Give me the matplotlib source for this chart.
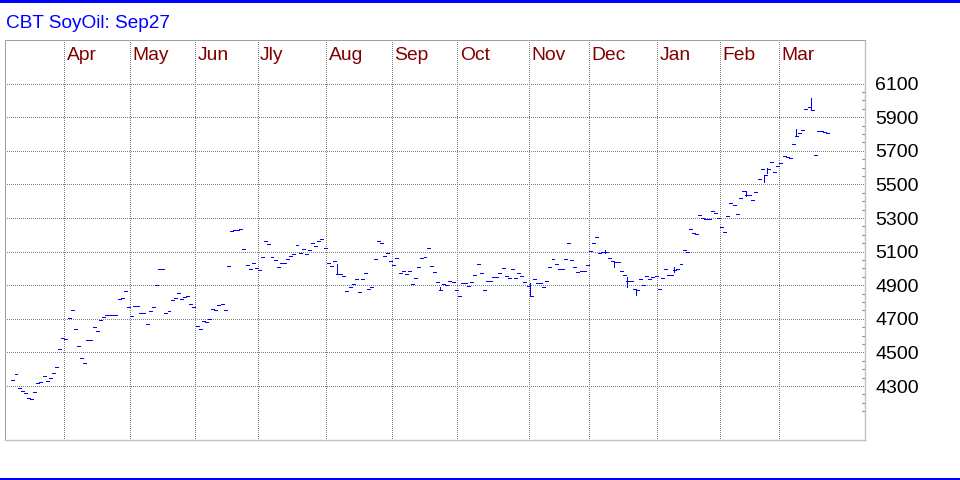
import matplotlib
matplotlib.use("Agg")
import matplotlib.pyplot as plt
import matplotlib.transforms as mtransforms
from matplotlib.collections import LineCollection
from matplotlib.patches import Rectangle
from matplotlib.ticker import FixedLocator
import numpy as np
import pandas as pd

# ---------------- data ----------------
title = "CBT SoyOil: Sep27"
first_day = "2025-03-07"
holidays = ["2025-04-18", "2025-05-26", "2025-06-19", "2025-07-04", "2025-09-01",
            "2025-11-27", "2025-12-25", "2026-01-01", "2026-01-19", "2026-02-16"]

settle_mar25 = [4334, 4370, 4286, 4268, 4256, 4227, 4221, 4262, 4316, 4322, 4358, 4328,
                4346, 4376, 4411, 4518, 4584]
settle_apr25 = [4578, 4703, 4751, 4637, 4536, 4465, 4435, 4572, 4572, 4649, 4626, 4691,
                4709, 4721, 4721, 4721, 4721, 4816, 4822, 4864, 4768]
settle_may25 = [4715, 4774, 4774, 4733, 4733, 4667, 4745, 4768, 4899, 4995, 4995, 4733,
                4745, 4810, 4822, 4852, 4816, 4828, 4834, 4786, 4768]
settle_jun25 = [4655, 4637, 4685, 4679, 4697, 4757, 4751, 4780, 4786, 4751, 5012, 5221,
                5227, 5227, 5233, 5114, 5018, 4995, 5030, 5001]
settle_jul25 = [4989, 5066, 5161, 5143, 5066, 5048, 5007, 5030, 5030, 5054, 5072, 5084,
                5137, 5090, 5114, 5084, 5108, 5149, 5131, 5161, 5173, 5120]
settle_aug25 = [5030, 5012, 5042, 4970, 4970, 4953, 4864, 4887, 4905, 4935, 4858, 4935,
                4971, 4876, 4887, 5054, 5161, 5149, 5072, 5090, 5042]
settle_sep25 = [5018, 5060, 4971, 4983, 4965, 4983, 4905, 4941, 5007, 5060, 5066, 5120,
                5012, 4977, 4917, 4869, 4905, 4899, 4923, 4917, 4869]
settle_oct25 = [4834, 4911, 4911, 4893, 4917, 4959, 5024, 4971, 4869, 4923, 4923, 4947,
                4947, 4971, 5001, 4953, 4941, 4995, 4941, 4971, 4953, 4917, 4893]
settle_nov25 = [4834, 4935, 4911, 4911, 4887, 4923, 5007, 5054, 5024, 4995, 4995, 5054,
                5149, 5048, 5007, 4977, 4983, 4983, 5018]
settle_dec25 = [5102, 5149, 5185, 5090, 5096, 5096, 5060, 5042, 5036, 5036, 4983, 4959,
                4923, 4923, 4876, 4869, 4935, 4899, 4953, 4935, 4947, 4953]
settle_jan26 = [4876, 4941, 4995, 4959, 4959, 4990, 4995, 5024, 5107, 5101, 5233, 5209,
                5203, 5316, 5298, 5292, 5292, 5340, 5328, 5298]
settle_feb26 = [5245, 5215, 5310, 5387, 5375, 5322, 5417, 5459, 5435, 5435, 5405, 5453,
                5530, 5590, 5554, 5590, 5631, 5572, 5608]
settle_mar26 = [5625, 5667, 5661, 5655, 5739, 5786, 5804, 5822, 5947, 5959, 5941, 5673,
                5816, 5816, 5810, 5804]

settle = (settle_mar25 + settle_apr25 + settle_may25 + settle_jun25 + settle_jul25 +
          settle_aug25 + settle_sep25 + settle_oct25 + settle_nov25 + settle_dec25 +
          settle_jan26 + settle_feb26 + settle_mar26)

wick_dates = ["2025-08-06", "2025-09-23", "2025-11-03", "2025-12-08", "2025-12-11",
              "2025-12-17", "2025-12-22", "2026-01-09", "2026-02-12", "2026-02-23",
              "2026-02-24", "2026-03-09", "2026-03-16"]
wick_high = [5024, 4887, 4911, 5108, 5036, 4947, 4869, 5010, 5459, 5554, 5596, 5828, 6012]
wick_low = [4970, 4869, 4834, 5090, 5007, 4887, 4845, 4977, 5429, 5512, 5566, 5786, 5941]

month_names = ["Jan", "Feb", "Mar", "Apr", "May", "Jun", "Jly", "Aug", "Sep", "Oct",
               "Nov", "Dec"]
price_ticks = list(range(4300, 6101, 200))
minor_ticks = list(range(4150, 6051, 50))

# ---------------- figure ----------------
FONT = "Liberation Sans"
W, H = 960, 480
fig = plt.figure(figsize=(W / 100, H / 100), dpi=100)
fig.patch.set_facecolor("white")

# blue bands top and bottom
fig.add_artist(Rectangle((0, 1 - 3 / H), 1, 3 / H, transform=fig.transFigure,
                         facecolor="#0000FF", edgecolor="none"))
fig.add_artist(Rectangle((0, 0), 1, 2.5 / H, transform=fig.transFigure,
                         facecolor="#0000FF", edgecolor="none"))

fig.text(6 / W, 1 - 27.5 / H, title, color="#0000FF", fontsize=13.7,
         family=FONT, va="baseline", ha="left")

ax = fig.add_axes([5 / W, 40 / H, 860 / W, 400 / H])
ax.set_facecolor("white")

dates = pd.bdate_range(first_day, periods=len(settle), freq="C", holidays=holidays)
xs = np.arange(len(settle))

ax.set_xlim(-2.2, 273.26)
ax.set_ylim(3979, 6360)

# grid
dot = (0, (1, 2))
px = 0.72
month_first = [i for i in range(1, len(dates)) if dates[i].month != dates[i - 1].month]
for i in month_first:
    ax.axvline(i - 0.3, color="#808080", lw=px, linestyle=dot, zorder=1,
               antialiased=False)
for p in price_ticks:
    ax.axhline(p, color="#808080", lw=px, linestyle=dot, zorder=1, antialiased=False)

lab_tr = mtransforms.blended_transform_factory(ax.transData, ax.transAxes)
for i in month_first:
    ax.text(i + 0.55, 0.95, month_names[dates[i].month - 1], transform=lab_tr,
            color="#800000", fontsize=13.9, family=FONT, va="baseline", ha="left")

# bars (HLC style: vertical range + close tick)
segs = []
for i, c in zip(xs, settle):
    segs.append([(i - 0.15, c), (i + 0.8, c)])
date_index = {d.strftime("%Y-%m-%d"): k for k, d in enumerate(dates)}
for d, h, l in zip(wick_dates, wick_high, wick_low):
    k = date_index[d]
    segs.append([(k, l), (k, h)])
lc = LineCollection(segs, colors="#0000FF", linewidths=0.72, antialiased=False, zorder=3)
ax.add_collection(lc)

# spines
for s in ["top", "left"]:
    ax.spines[s].set_color("#a0a0a0")
    ax.spines[s].set_linestyle((0, (1, 1)))
    ax.spines[s].set_linewidth(px)
    ax.spines[s].set_antialiased(False)
for s in ["bottom", "right"]:
    ax.spines[s].set_color("#c0c0c0")
    ax.spines[s].set_linewidth(1.0)

ax.set_xticks([])
ax.yaxis.tick_right()
ax.set_yticks(price_ticks)
ax.set_yticklabels([str(p) for p in price_ticks])
ax.yaxis.set_minor_locator(FixedLocator(minor_ticks))
ax.tick_params(axis="y", which="major", length=0, pad=7.2, labelsize=14,
               labelcolor="black", left=False, right=True)
ax.tick_params(axis="y", which="minor", direction="in", length=2.5, width=0.8,
               color="#808080", left=False, right=True)
for t in ax.get_yticklabels():
    t.set_family(FONT)

fig.savefig("out.png", dpi=100, facecolor="white")
